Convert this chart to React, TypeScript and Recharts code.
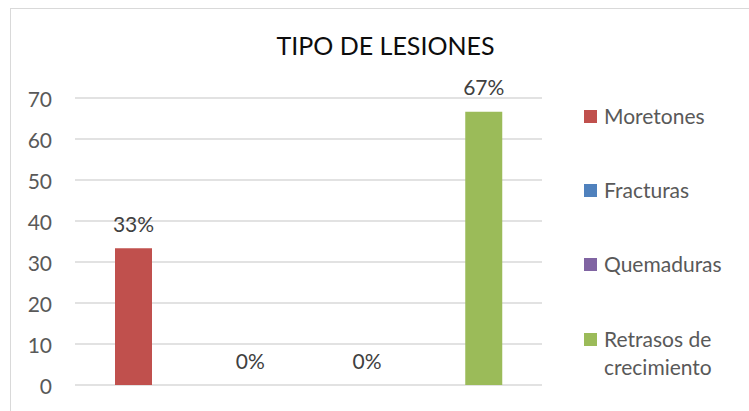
import { BarChart, Bar, XAxis, YAxis, CartesianGrid, Cell, LabelList, Rectangle } from 'recharts';

const categories = ['Moretones', 'Fracturas', 'Quemaduras', 'Retrasos de crecimiento'];
const values = [33.33, 0, 0, 66.67];
const colors = ['#C0504D', '#4F81BD', '#8064A2', '#9BBB59'];
const yTicks = [0, 10, 20, 30, 40, 50, 60, 70];

const data = categories.map((name, i) => ({ name, value: values[i] }));

const FONT = 'Lato, "Open Sans", sans-serif';

const YTick = (props: any) => {
  const { x, y, payload } = props;
  return (
    <text x={x} y={y} textAnchor="end" dominantBaseline="central" fill="#595959" fontSize={21} fontFamily={FONT}>
      {payload.value}
    </text>
  );
};

const PctLabel = (props: any) => {
  const { x, y, width, height, value } = props;
  // zero bars get a 1px minimum height, label from the baseline
  const top = value === 0 ? y + height : y;
  return (
    <text x={x + width / 2} y={top - 25} textAnchor="middle" dominantBaseline="central" fill="#404040" fontSize={21} fontFamily={FONT}>
      {Math.round(value)}%
    </text>
  );
};

const BarShape = (props: any) => {
  if (!props.value) return <g />;
  return <Rectangle {...props} />;
};

export default function App() {
  return (
    <div style={{ position: 'absolute', left: 0, top: 0, width: 749, height: 411, background: '#fff', overflow: 'hidden' }}>
      <div style={{ position: 'absolute', left: 10, top: 8, width: 760, height: 420, border: '1px solid #d9d9d9' }} />
      <div style={{ position: 'absolute', left: 0, top: 30, width: 771, textAlign: 'center', fontFamily: FONT, fontSize: 25, color: '#0d0d0d' }}>
        TIPO DE LESIONES
      </div>
      <div style={{ position: 'absolute', left: 0, top: 0 }}>
        <BarChart width={749} height={411} data={data} margin={{ top: 98, right: 207, bottom: 26, left: 0 }}>
          <CartesianGrid vertical={false} stroke="#d9d9d9" strokeWidth={1.5} />
          <XAxis dataKey="name" hide />
          <YAxis
            width={75}
            domain={[0, 70]}
            ticks={yTicks}
            axisLine={false}
            tickLine={false}
            tickMargin={0}
            tickSize={23}
            tick={<YTick />}
            interval={0}
          />
          <Bar dataKey="value" barSize={37} minPointSize={1} shape={<BarShape />} isAnimationActive={false}>
            {data.map((d, i) => (
              <Cell key={d.name} fill={colors[i]} />
            ))}
            <LabelList dataKey="value" content={<PctLabel />} />
          </Bar>
        </BarChart>
      </div>
      <div style={{ position: 'absolute', left: 584, top: 0, fontFamily: FONT, fontSize: 21, color: '#595959' }}>
        {categories.map((c, i) => (
          <div key={c} style={{ position: 'absolute', top: [116, 190, 264, 339][i] - 14, left: 0, display: 'flex', alignItems: 'flex-start', width: 160 }}>
            <span style={{ display: 'inline-block', width: 13, height: 13, background: colors[i], marginTop: 8, marginRight: 7, flexShrink: 0 }} />
            <span style={{ lineHeight: '28px', width: 130 }}>{c}</span>
          </div>
        ))}
      </div>
    </div>
  );
}
